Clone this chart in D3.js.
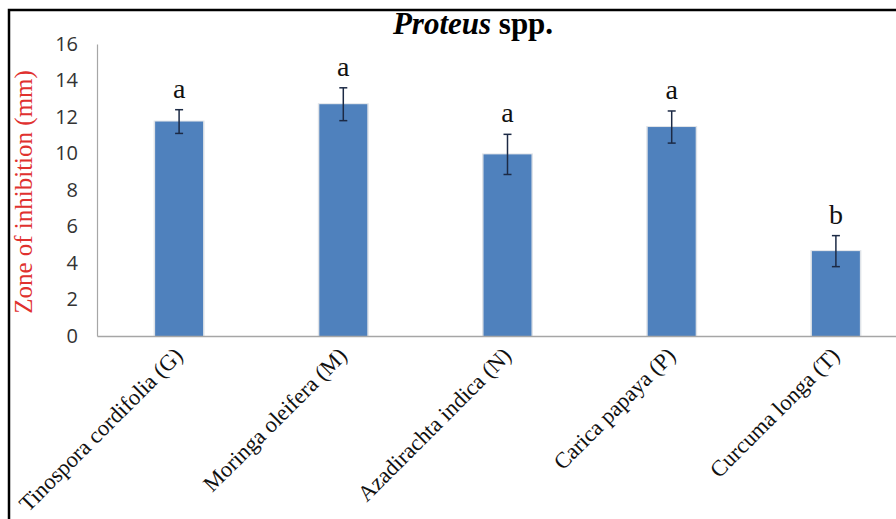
<!DOCTYPE html>
<html><head><meta charset="utf-8">
<script src="https://cdn.jsdelivr.net/npm/d3@7/dist/d3.min.js"></script>
<style>body{margin:0;background:#fff;} svg{display:block;}</style>
</head><body>
<svg id="chart" width="896" height="519"></svg>
<script>
const categories = ["Tinospora cordifolia (G)", "Moringa oleifera (M)", "Azadirachta indica  (N)", "Carica papaya (P)", "Curcuma longa  (T)"];
const values = [11.75, 12.7, 9.95, 11.45, 4.65];
const errors = [0.65, 0.9, 1.1, 0.88, 0.85];
const letters = ["a", "a", "a", "a", "b"];
const yTicks = [0, 2, 4, 6, 8, 10, 12, 14, 16];

const svg = d3.select("#chart");
svg.append("rect").attr("x",0).attr("y",0).attr("width",896).attr("height",519).attr("fill","#fff");
// outer frame
svg.append("path").attr("d","M9,519 L9,10 L896,10").attr("fill","none").attr("stroke","#000").attr("stroke-width",2.5);

const plotLeft = 97, plotRight = 918, plotTop = 44, plotBottom = 336;
const x = d3.scaleBand().domain(categories).range([plotLeft, plotRight]).paddingInner(0.708).paddingOuter(0.354);
const y = d3.scaleLinear().domain([0, 16]).range([plotBottom, plotTop]);

// y axis
const yAxis = svg.append("g").attr("transform", `translate(${plotLeft},0)`)
  .call(d3.axisLeft(y).tickValues(yTicks).tickSize(0).tickPadding(19));
yAxis.select(".domain").attr("stroke","#a6a6a6").attr("stroke-width",1.2);
yAxis.selectAll("text").attr("font-family","'Open Sans', 'Liberation Sans', sans-serif").attr("font-size","20px").attr("fill","#333");

// bars
const g = svg.append("g");
g.selectAll("rect.shadow").data(values).join("rect")
  .attr("x",(d,i)=>x(categories[i])-1.5).attr("y",d=>y(d)-1)
  .attr("width",x.bandwidth()+3).attr("height",d=>plotBottom-y(d)+1)
  .attr("fill","#dfe3e8");
g.selectAll("rect.bar").data(values).join("rect")
  .attr("x",(d,i)=>x(categories[i])).attr("y",d=>y(d))
  .attr("width",x.bandwidth()).attr("height",d=>plotBottom-y(d))
  .attr("fill","#4f81bd");

// x axis
const xAxis = svg.append("g").attr("transform",`translate(0,${plotBottom})`)
  .call(d3.axisBottom(x).tickSize(0).tickPadding(0));
xAxis.select(".domain").attr("stroke","#a6a6a6").attr("stroke-width",1.5);
xAxis.selectAll("text")
  .attr("font-family","'Liberation Serif', 'Times New Roman', serif").attr("font-size","22.5px").attr("fill","#111")
  .attr("text-anchor","end").attr("dy","0")
  .attr("transform","translate(5,21) rotate(-45)");

// error bars
const eb = svg.append("g").attr("stroke","#1c2a45").attr("stroke-width",1.5);
values.forEach((v,i)=>{
  const cx = x(categories[i]) + x.bandwidth()/2;
  eb.append("line").attr("x1",cx).attr("x2",cx).attr("y1",y(v+errors[i])).attr("y2",y(v-errors[i]));
  eb.append("line").attr("x1",cx-4).attr("x2",cx+4).attr("y1",y(v+errors[i])).attr("y2",y(v+errors[i]));
  eb.append("line").attr("x1",cx-4).attr("x2",cx+4).attr("y1",y(v-errors[i])).attr("y2",y(v-errors[i]));
});

// letters
svg.append("g").selectAll("text").data(letters).join("text")
  .attr("x",(d,i)=>x(categories[i]) + x.bandwidth()/2)
  .attr("y",(d,i)=>y(values[i]+errors[i]) - 12)
  .attr("text-anchor","middle")
  .attr("font-family","'Liberation Serif', 'Times New Roman', serif").attr("font-size","28px").attr("fill","#111")
  .text(d=>d);

// title
const t = svg.append("text").attr("x",473).attr("y",34).attr("text-anchor","middle")
  .attr("font-family","'Liberation Serif', 'Times New Roman', serif").attr("font-size","31px").attr("font-weight","bold").attr("fill","#000");
t.append("tspan").attr("font-style","italic").text("Proteus");
t.append("tspan").text(" spp.");

// y label
svg.append("text").attr("transform","translate(32,192) rotate(-90)").attr("text-anchor","middle")
  .attr("font-family","'Liberation Serif', 'Times New Roman', serif").attr("font-size","25px").attr("fill","#e0312f")
  .text("Zone of inhibition (mm)");
</script>
</body></html>
